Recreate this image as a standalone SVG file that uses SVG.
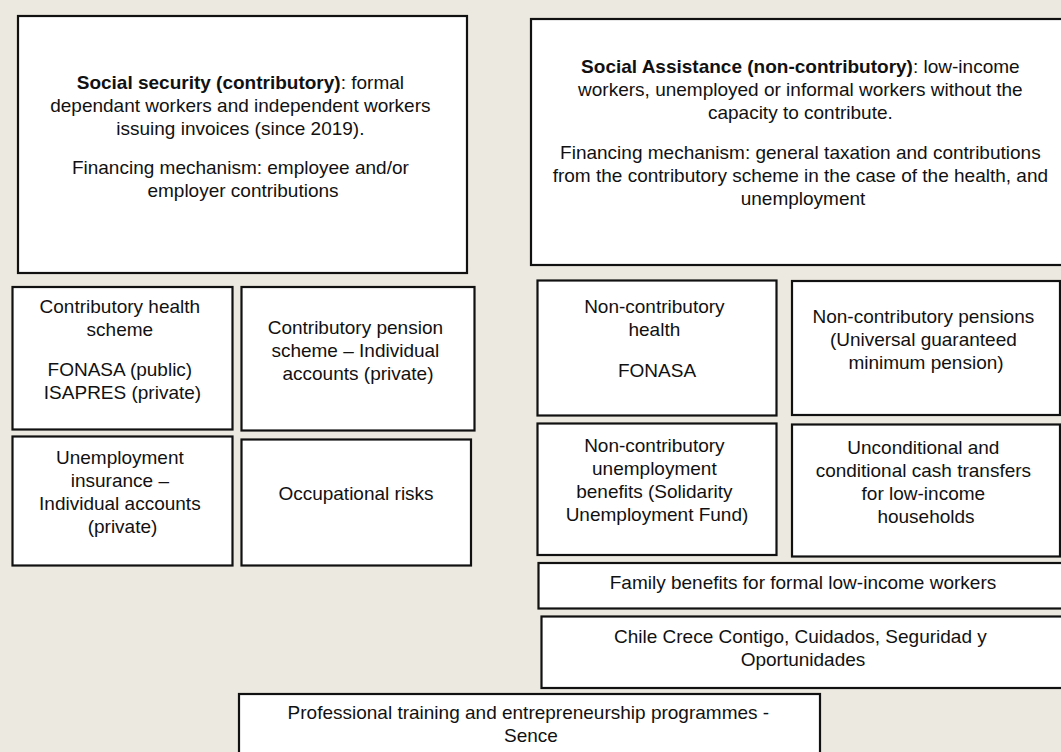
<svg xmlns="http://www.w3.org/2000/svg" width="1061" height="752" viewBox="0 0 1061 752">
  <style>
    .box { fill: #ffffff; stroke: #111111; stroke-width: 2.2; }
    .lbl { font-family: "Liberation Sans", Arial, sans-serif; font-size: 19px; fill: #111111; text-anchor: middle; }
    .b { font-weight: bold; }
  </style>
  <rect x="0" y="0" width="1061" height="752" fill="#ECE9E0"/>

  <!-- Contributory pillar -->
  <g id="social-security">
    <rect class="box" x="18" y="16" width="449" height="257"/>
    <text class="lbl">
      <tspan x="243" y="89"><tspan class="b">Social security (contributory)</tspan>: formal</tspan>
      <tspan x="243" y="112">dependant workers and independent workers</tspan>
      <tspan x="243" y="135">issuing invoices (since 2019).</tspan>
      <tspan x="243" y="174">Financing mechanism: employee and/or</tspan>
      <tspan x="243" y="197">employer contributions</tspan>
    </text>
  </g>

  <g id="contributory-health">
    <rect class="box" x="12.5" y="287" width="220" height="142.5"/>
    <text class="lbl">
      <tspan x="122.5" y="313">Contributory health</tspan>
      <tspan x="122.5" y="336">scheme</tspan>
      <tspan x="122.5" y="376">FONASA (public)</tspan>
      <tspan x="122.5" y="399">ISAPRES (private)</tspan>
    </text>
  </g>

  <g id="contributory-pension">
    <rect class="box" x="241.5" y="287" width="233" height="143.5"/>
    <text class="lbl">
      <tspan x="358" y="334">Contributory pension</tspan>
      <tspan x="358" y="357">scheme – Individual</tspan>
      <tspan x="358" y="380">accounts (private)</tspan>
    </text>
  </g>

  <g id="unemployment-insurance">
    <rect class="box" x="12.5" y="436.5" width="220" height="129"/>
    <text class="lbl">
      <tspan x="122.5" y="464">Unemployment</tspan>
      <tspan x="122.5" y="487">insurance –</tspan>
      <tspan x="122.5" y="510">Individual accounts</tspan>
      <tspan x="122.5" y="533">(private)</tspan>
    </text>
  </g>

  <g id="occupational-risks">
    <rect class="box" x="241.5" y="439.5" width="229.5" height="126"/>
    <text class="lbl" x="356" y="500">Occupational risks</text>
  </g>

  <!-- Non-contributory pillar -->
  <g id="social-assistance">
    <rect class="box" x="531" y="19" width="546" height="246"/>
    <text class="lbl">
      <tspan x="803" y="73"><tspan class="b">Social Assistance (non-contributory)</tspan>: low-income</tspan>
      <tspan x="803" y="96">workers, unemployed or informal workers without the</tspan>
      <tspan x="803" y="119">capacity to contribute.</tspan>
      <tspan x="803" y="159">Financing mechanism: general taxation and contributions</tspan>
      <tspan x="803" y="182">from the contributory scheme in the case of the health, and</tspan>
      <tspan x="803" y="205">unemployment</tspan>
    </text>
  </g>

  <g id="non-contributory-health">
    <rect class="box" x="537.5" y="280.5" width="239" height="135"/>
    <text class="lbl">
      <tspan x="657" y="313">Non-contributory</tspan>
      <tspan x="657" y="336">health</tspan>
      <tspan x="657" y="377">FONASA</tspan>
    </text>
  </g>

  <g id="non-contributory-pensions">
    <rect class="box" x="792" y="281" width="268" height="134"/>
    <text class="lbl">
      <tspan x="926" y="323">Non-contributory pensions</tspan>
      <tspan x="926" y="346">(Universal guaranteed</tspan>
      <tspan x="926" y="369">minimum pension)</tspan>
    </text>
  </g>

  <g id="non-contributory-unemployment">
    <rect class="box" x="537.5" y="423.5" width="239" height="131.5"/>
    <text class="lbl">
      <tspan x="657" y="452">Non-contributory</tspan>
      <tspan x="657" y="475">unemployment</tspan>
      <tspan x="657" y="498">benefits (Solidarity</tspan>
      <tspan x="657" y="521">Unemployment Fund)</tspan>
    </text>
  </g>

  <g id="cash-transfers">
    <rect class="box" x="792" y="424.5" width="268" height="132"/>
    <text class="lbl">
      <tspan x="926" y="454">Unconditional and</tspan>
      <tspan x="926" y="477">conditional cash transfers</tspan>
      <tspan x="926" y="500">for low-income</tspan>
      <tspan x="926" y="523">households</tspan>
    </text>
  </g>

  <g id="family-benefits">
    <rect class="box" x="538.5" y="563" width="530" height="45.5"/>
    <text class="lbl" x="803" y="589">Family benefits for formal low-income workers</text>
  </g>

  <g id="chile-crece-contigo">
    <rect class="box" x="541.5" y="616.5" width="530" height="71.5"/>
    <text class="lbl">
      <tspan x="803" y="643">Chile Crece Contigo, Cuidados, Seguridad y</tspan>
      <tspan x="803" y="666">Oportunidades</tspan>
    </text>
  </g>

  <!-- Spanning programme -->
  <g id="professional-training">
    <rect class="box" x="239" y="694" width="581" height="80"/>
    <text class="lbl">
      <tspan x="531" y="719">Professional training and entrepreneurship programmes -</tspan>
      <tspan x="531" y="742">Sence</tspan>
    </text>
  </g>

  <!-- no connectors are drawn between the boxes -->
  <g id="connectors"/>
</svg>
